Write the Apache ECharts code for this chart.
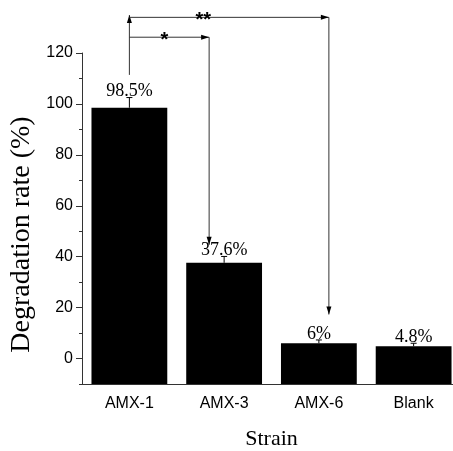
<!DOCTYPE html>
<html>
<head>
<meta charset="utf-8">
<script src="https://cdn.jsdelivr.net/npm/echarts@6/dist/echarts.min.js"></script>
<style>
  html, body { margin: 0; padding: 0; background: #fff; }
  #chart { width: 453px; height: 451px; }
</style>
</head>
<body>
<div id="chart"></div>
<script>
// data
const strains = ['AMX-1', 'AMX-3', 'AMX-6', 'Blank']
const rates = [98.5, 37.6, 6, 4.8]
const errors = [4.0, 2.5, 1.3, 1.2]
const yMin = -10
const yMax = 120
const yTicks = [0, 20, 40, 60, 80, 100, 120]
const yMinorTicks = [-10, 10, 30, 50, 70, 90, 110]

// significance brackets: all start from AMX-1
const sigStem = [111.4, 134.9]
const sigPairs = [
  { to: 1, mark: '*', level: 126.2, tip: 44.7, dx: -15, t: 0.44 },
  { to: 2, mark: '**', level: 134, tip: 17.3, dx: 10, t: 0.37 },
]

const serif = '"Liberation Serif", "Times New Roman", serif'
const sans = '"Liberation Sans", Arial, sans-serif'
const axisColor = '#333'

const chart = echarts.init(document.getElementById('chart'))

chart.setOption({
  animation: false,
  grid: { left: 82, top: 53, bottom: 67, width: 379, outerBoundsMode: 'none', containLabel: false },
  xAxis: [
    {
      type: 'category',
      data: strains,
      name: 'Strain',
      nameLocation: 'middle',
      nameGap: 44,
      nameTextStyle: { fontFamily: serif, fontSize: 22, color: '#000' },
      axisLine: { onZero: false, lineStyle: { color: axisColor } },
      axisTick: { alignWithLabel: true, length: 6, lineStyle: { color: axisColor } },
      axisLabel: { fontFamily: sans, fontSize: 16, color: '#000', margin: 12 },
    },
    {
      type: 'category',
      data: strains,
      position: 'bottom',
      axisLine: { show: false, onZero: false },
      axisTick: { length: 3, lineStyle: { color: axisColor } },
      axisLabel: { show: false },
    },
  ],
  yAxis: [
    {
      type: 'value',
      min: yMin,
      max: yMax,
      name: 'Degradation rate (%)',
      nameLocation: 'middle',
      nameGap: 44,
      nameTextStyle: { fontFamily: serif, fontSize: 28, color: '#000', padding: [0, 32, 0, 0] },
      axisLine: { show: true, lineStyle: { color: axisColor } },
      axisTick: { show: true, customValues: yTicks, length: 6, lineStyle: { color: axisColor } },
      axisLabel: { customValues: yTicks, fontFamily: sans, fontSize: 16, color: '#000', margin: 9 },
      splitLine: { show: false },
    },
    {
      type: 'value',
      min: yMin,
      max: yMax,
      position: 'left',
      axisLine: { show: false },
      axisTick: { show: true, customValues: yMinorTicks, length: 3, lineStyle: { color: axisColor } },
      axisLabel: { show: false },
      splitLine: { show: false },
    },
  ],
  series: [
    {
      type: 'custom',
      data: rates.map((v, i) => [i, v, errors[i]]),
      encode: { x: 0, y: 1 },
      renderItem(params, api) {
        const i = api.value(0)
        const v = api.value(1)
        const e = api.value(2)
        const base = api.coord([i, yMin])
        const top = api.coord([i, v])
        const cap = api.coord([i, v + e])
        const bw = api.size([1, 0])[0] * 0.8
        const line = { stroke: '#000', lineWidth: 1 }
        return {
          type: 'group',
          children: [
            { type: 'rect', shape: { x: top[0] - bw / 2, y: top[1], width: bw, height: base[1] - top[1] }, style: { fill: '#000' } },
            { type: 'line', shape: { x1: top[0], y1: top[1], x2: top[0], y2: cap[1] }, style: line },
            { type: 'line', shape: { x1: top[0] - 3, y1: cap[1], x2: top[0] + 3, y2: cap[1] }, style: line },
            {
              type: 'text', x: top[0], y: cap[1] + 3,
              style: { text: v + '%', fill: '#000', font: '18px ' + serif, align: 'center', verticalAlign: 'bottom' },
            },
          ],
        }
      },
    },
  ],
})

// brackets drawn on top, placed through the axes
function px(cat, val, dx) {
  const p = chart.convertToPixel({ xAxisIndex: 0, yAxisIndex: 0 }, [strains[cat], val])
  return [p[0] + (dx || 0), p[1]]
}
const ink = { stroke: '#333', lineWidth: 1 }
const arrow = (x, y, dir) => {
  // small filled triangle, tip at (x, y)
  const l = 8, w = 2.5
  let pts
  if (dir === 'up') pts = [[x, y], [x - w, y + l], [x + w, y + l]]
  else if (dir === 'down') pts = [[x, y], [x - w, y - l], [x + w, y - l]]
  else pts = [[x, y], [x - l, y - w], [x - l, y + w]]
  return { type: 'polygon', shape: { points: pts }, style: { fill: '#000' } }
}
const g = []
const s0 = px(0, sigStem[0])
const s1 = px(0, sigStem[1])
g.push({ type: 'line', shape: { x1: s0[0], y1: s0[1], x2: s1[0], y2: s1[1] }, style: ink })
g.push(arrow(s1[0], s1[1], 'up'))
sigPairs.forEach(p => {
  const a = px(0, p.level)
  const b = px(p.to, p.level, p.dx)
  const c = px(p.to, p.tip, p.dx)
  g.push({ type: 'line', shape: { x1: a[0], y1: a[1], x2: b[0], y2: b[1] }, style: ink })
  g.push(arrow(b[0], b[1], 'right'))
  g.push({ type: 'line', shape: { x1: b[0], y1: b[1], x2: c[0], y2: c[1] }, style: ink })
  g.push(arrow(c[0], c[1], 'down'))
  g.push({
    type: 'text', x: a[0] + (b[0] - a[0]) * p.t, y: a[1] + 3,
    style: { text: p.mark, fill: '#000', font: 'bold 20px ' + sans, align: 'center', verticalAlign: 'middle' },
  })
})
chart.setOption({ graphic: g })
</script>
</body>
</html>
